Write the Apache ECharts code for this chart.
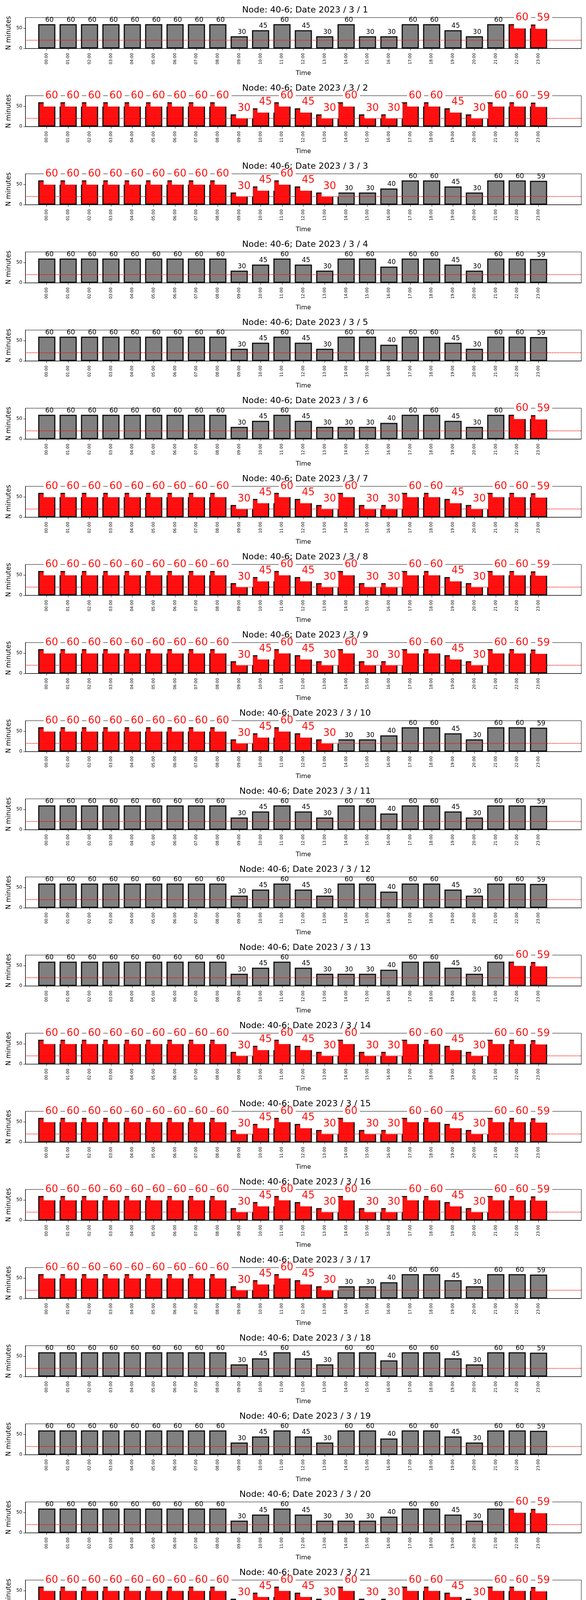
<!DOCTYPE html>
<html>
<head>
<meta charset="utf-8">
<script src="https://cdn.jsdelivr.net/npm/echarts@6/dist/echarts.min.js"></script>
<style>
  html, body { margin: 0; padding: 0; background: #fff; }
  #main { width: 1500px; height: 6000px; }
</style>
</head>
<body>
<div id="main"></div>
<script>
// hour labels, with blank slots used as padding at the ends of the axis
const hours = ['00:00','01:00','02:00','03:00','04:00','05:00','06:00','07:00','08:00','09:00','10:00','11:00',
  '12:00','13:00','14:00','15:00','16:00','17:00','18:00','19:00','20:00','21:00','22:00','23:00'];

// hourly minute counts, one profile per kind of day
const profileA = [60,60,60,60,60,60,60,60,60,30,45,60,45,30,60,30,30,60,60,45,30,60,60,59];
const profileC = [60,60,60,60,60,60,60,60,60,30,45,60,45,30,30,30,40,60,60,45,30,60,60,59];
const profileD = [60,60,60,60,60,60,60,60,60,30,45,60,45,30,60,60,40,60,60,45,30,60,60,59];
const profileE = [60,60,60,60,60,60,60,60,60,30,45,60,45,30,30,30,40,60,60,45,30,60,60,59];

// which hours are flagged (drawn red) for each kind of day
const redNone = [];
const redLate = [22,23];
const redAll = hours.map((h, i) => i);
const redMorning = [0,1,2,3,4,5,6,7,8,9,10,11,12,13];

// day of March -> [values, flagged hours]
const dayKinds = {
  first: [profileA, redLate],
  B: [profileA, redAll],
  C: [profileC, redMorning],
  D: [profileD, redNone],
  E: [profileE, redLate],
};
const days = ['first','B','C','D','D','E','B','B','B','C','D','D','E','B','B','B','C','D','D','E',
  'B','B','B','C','D','D','E','B','B','B'];

const threshold = 20;
const PANEL = 200;

const chart = echarts.init(document.getElementById('main'), null, { renderer: 'canvas' });
const font = 'DejaVu Sans';
const cats = [''].concat(hours, ['', '']);

const grids = [], xAxes = [], yAxes = [], series = [], titles = [];

days.forEach((kind, d) => {
  const [vals, reds] = dayKinds[kind];
  const top = PANEL * d;
  titles.push({
    text: 'Node: 40-6; Date 2023 / 3 / ' + (d + 1),
    left: 776, top: top + 10, textAlign: 'center',
    textStyle: { fontFamily: font, fontSize: 22, fontWeight: 'normal', color: '#000' },
  });
  grids.push({ left: 65, right: 12, top: top + 45, height: 79, show: true,
    borderColor: '#000', borderWidth: 1, backgroundColor: '#fff' });
  xAxes.push({
    gridIndex: d, type: 'category', data: cats, boundaryGap: false,
    name: 'Time', nameLocation: 'middle', nameGap: 56,
    nameTextStyle: { fontFamily: font, fontSize: 16, color: '#000' },
    axisLine: { lineStyle: { color: '#000' } },
    axisTick: { length: 5, lineStyle: { color: '#000' }, interval: (i, v) => v !== '' },
    axisLabel: { rotate: 90, interval: 0, fontFamily: font, fontSize: 10, color: '#000', margin: 12 },
  });
  yAxes.push({
    gridIndex: d, type: 'value', min: 0, max: 76, interval: 50,
    name: 'N minutes', nameLocation: 'middle', nameGap: 34,
    nameTextStyle: { fontFamily: font, fontSize: 17, color: '#000' },
    splitLine: { show: false },
    axisLine: { show: true, lineStyle: { color: '#000' } },
    axisTick: { show: true, length: 5, lineStyle: { color: '#000' } },
    axisLabel: { fontFamily: font, fontSize: 12, color: '#000', showMaxLabel: false },
  });
  const data = [null].concat(vals.map((v, h) => {
    const red = reds.includes(h);
    return {
      value: v,
      itemStyle: { color: red ? '#ff1010' : '#808080', borderColor: '#111', borderWidth: 3 },
      label: red ? {
        show: true, position: 'top', align: 'left', color: '#ff1010', fontSize: 26,
        backgroundColor: '#fff', padding: [0, 6, 14, 4], offset: [-8, 16], fontFamily: font,
      } : {
        show: true, position: 'top', align: 'left', color: '#000', fontSize: 17,
        offset: [-4, 3], fontFamily: font,
      },
    };
  }), [null, null]);
  series.push({
    type: 'bar', xAxisIndex: d, yAxisIndex: d, data: data, barWidth: 44,
    z: 2, animation: false,
    markLine: {
      silent: true, symbol: 'none', label: { show: false },
      lineStyle: { color: '#ff0000', type: 'dotted', width: 2 },
      data: [{ yAxis: threshold }],
    },
  });
});

chart.setOption({
  animation: false,
  title: titles,
  grid: grids,
  xAxis: xAxes,
  yAxis: yAxes,
  series: series,
});
</script>
</body>
</html>
